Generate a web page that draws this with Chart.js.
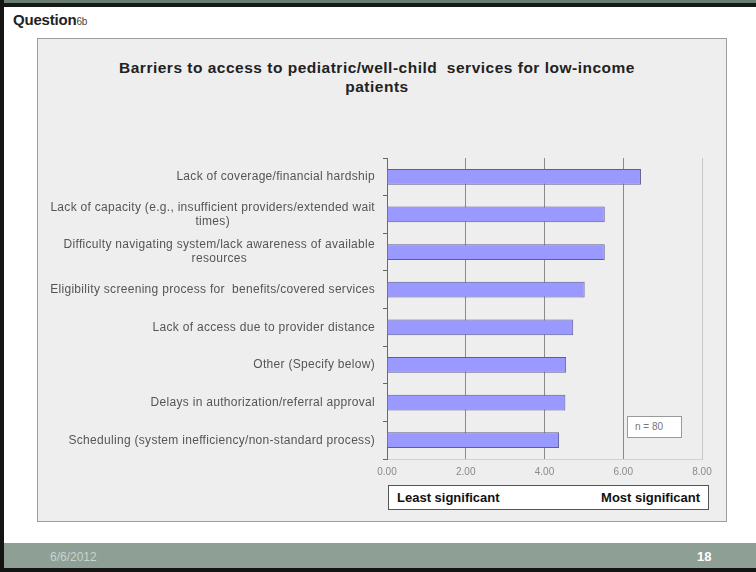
<!DOCTYPE html>
<html>
<head>
<meta charset="utf-8">
<script src="https://cdn.jsdelivr.net/npm/chart.js@4"></script>
<style>
  html,body{margin:0;padding:0;background:#fff;}
  body{width:756px;height:572px;position:relative;overflow:hidden;font-family:"Liberation Sans",Arial,sans-serif;}
  .topbar{position:absolute;left:0;top:0;width:756px;height:7px;background:linear-gradient(#6b7d72 0,#6b7d72 3px,#141a16 3px);}
  .leftbar{position:absolute;left:0;top:0;width:4px;height:572px;background:#141414;}
  .footer{position:absolute;left:0;top:543px;width:756px;height:25px;background:#8e9f95;}
  .footer-base{position:absolute;left:0;top:568px;width:756px;height:4px;background:#141414;}
  .foot-date{position:absolute;left:50px;top:550px;font-size:12px;color:#c9d3cd;}
  .foot-page{position:absolute;left:697px;top:549px;font-size:13px;font-weight:bold;color:#fff;}
  .question{position:absolute;left:13px;top:11px;font-size:15px;font-weight:bold;color:#222;letter-spacing:-0.2px;}
  .question small{font-size:10px;font-weight:normal;color:#444;}
  .panel{position:absolute;left:37px;top:38px;width:690px;height:484px;box-sizing:border-box;border:1px solid #9c9c9c;background:#eeeeee;}
  .title{position:absolute;left:107px;top:58px;width:540px;text-align:center;font-size:15.5px;line-height:19px;letter-spacing:0.5px;font-weight:bold;color:#222;}
  #chart{position:absolute;left:0;top:0;}
  .nbox{position:absolute;left:627px;top:416px;width:55px;height:22px;box-sizing:border-box;border:1px solid #9a9a9a;background:#fff;font-size:10px;color:#777;line-height:20px;padding-left:7px;}
  .scale-key{position:absolute;left:388px;top:485px;width:321px;height:25px;box-sizing:border-box;border:1px solid #555;background:#fff;display:flex;justify-content:space-between;align-items:center;padding:0 8px;font-size:13px;font-weight:bold;color:#111;}
</style>
</head>
<body>
<div class="topbar"></div>
<div class="question">Question<small>6b</small></div>
<div class="panel"></div>
<div class="title">Barriers to access to pediatric/well-child&nbsp; services for low-income<br>patients</div>
<canvas id="chart" width="756" height="572"></canvas>
<div class="nbox">n = 80</div>
<div class="scale-key"><span>Least significant</span><span>Most significant</span></div>
<div class="footer"></div>
<div class="footer-base"></div>
<div class="leftbar"></div>
<div class="foot-date">6/6/2012</div>
<div class="foot-page">18</div>

<script>
/* ─── DATA ─────────────────────────────── */
const barriers = [
  ['Lack of coverage/financial hardship'],
  ['Lack of capacity (e.g., insufficient providers/extended wait', 'times)'],
  ['Difficulty navigating system/lack awareness of available', 'resources'],
  ['Eligibility screening process for  benefits/covered services'],
  ['Lack of access due to provider distance'],
  ['Other (Specify below)'],
  ['Delays in authorization/referral approval'],
  ['Scheduling (system inefficiency/non-standard process)']
];
const meanRatings = [6.45, 5.53, 5.53, 5.02, 4.73, 4.55, 4.53, 4.37];
const ratingTicks = [0, 2, 4, 6, 8];

/* ─── CATEGORY LABELS (right-aligned block, centred lines) ─── */
const barrierLabels = {
  id: 'barrierLabels',
  afterDraw(chart){
    const ctx = chart.ctx, y = chart.scales.y;
    const rightX = y.left;
    const lh = 14;
    ctx.save();
    ctx.font = '12px "Liberation Sans", Arial, sans-serif';
    if ('letterSpacing' in ctx) ctx.letterSpacing = '0.3px';
    ctx.fillStyle = '#555';
    ctx.textAlign = 'center';
    ctx.textBaseline = 'middle';
    barriers.forEach((lines, i) => {
      const cy = y.getPixelForTick(i);
      const w = Math.max(...lines.map(l => ctx.measureText(l).width));
      const cx = rightX - w / 2;
      lines.forEach((l, j) => {
        ctx.fillText(l, cx, cy + (j - (lines.length - 1) / 2) * lh);
      });
    });
    ctx.restore();
  }
};

/* ─── CHART ────────────────────────────── */
new Chart(document.getElementById('chart').getContext('2d'), {
  type: 'bar',
  data: {
    labels: barriers.map(b => b.join(' ')),
    datasets: [{
      data: meanRatings,
      backgroundColor: '#9999ff',
      borderColor: '#5e5e92',
      borderWidth: 1,
      barPercentage: 0.42,
      categoryPercentage: 1
    }]
  },
  options: {
    indexAxis: 'y',
    responsive: false,
    animation: false,
    layout: { padding: { left: 375, top: 158, right: 54, bottom: 93 } },
    plugins: { legend: { display: false }, tooltip: { enabled: false }, title: { display: false } },
    scales: {
      x: {
        min: 0, max: 8,
        afterBuildTicks: s => { s.ticks = ratingTicks.map(v => ({ value: v })); },
        afterFit: s => { s.height = 20; },
        ticks: {
          callback: v => v.toFixed(2),
          color: '#8a8a8a',
          padding: 7,
          font: { size: 10, family: '"Liberation Sans", Arial, sans-serif' }
        },
        grid: {
          drawTicks: false,
          color: c => (c.tick && c.tick.value === 8) ? '#c6c6c6' : '#8a8a8a'
        },
        border: { display: true, color: '#d0d0d0' }
      },
      y: {
        offset: true,
        afterFit: s => { s.width = 12; },
        ticks: { display: false },
        grid: { drawOnChartArea: false, drawTicks: true, tickLength: 4, color: '#666', offset: true },
        border: { display: true, color: '#6a6a6a' }
      }
    }
  },
  plugins: [barrierLabels]
});
</script>
</body>
</html>
